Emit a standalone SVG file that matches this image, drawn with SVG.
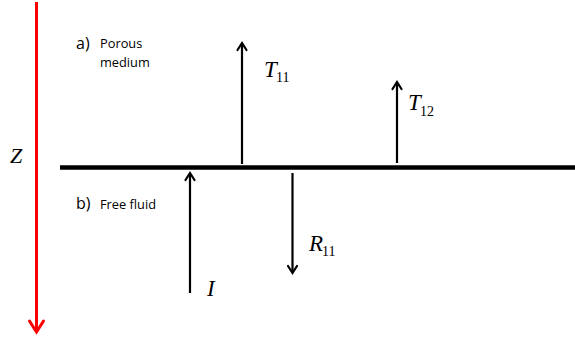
<svg xmlns="http://www.w3.org/2000/svg" width="575" height="341" viewBox="0 0 575 341">
<style>
.arr{stroke:#000;stroke-width:2.2;fill:none}
.head{stroke:#000;stroke-width:2.2;fill:none;stroke-linecap:round;stroke-linejoin:miter}
.lbl{font-family:"Open Sans","DejaVu Sans",sans-serif;fill:#000}
.m{font-family:"Liberation Serif","Times New Roman",serif;font-style:italic;fill:#000}
.sub{font-family:"Liberation Serif","Times New Roman",serif;fill:#000}
</style>
<rect width="575" height="341" fill="#fff"/>
<g id="z-axis">
<line x1="36.5" y1="2" x2="36.5" y2="332" stroke="#ff0000" stroke-width="3"/>
<polyline points="29.5,321 36.5,332 43.5,321" fill="none" stroke="#ff0000" stroke-width="3" stroke-linecap="round"/>
<text class="m" x="10" y="163" font-size="22">Z</text>
</g>
<g id="interface">
<line x1="60" y1="167.5" x2="575" y2="167.5" stroke="#000" stroke-width="4.5"/>
</g>
<g id="label-a">
<text class="lbl" x="76" y="49" font-size="16">a)</text>
<text class="lbl" x="100" y="48" font-size="12.8">Porous</text>
<text class="lbl" x="100" y="67" font-size="12.8">medium</text>
</g>
<g id="label-b">
<text class="lbl" x="76" y="209" font-size="16">b)</text>
<text class="lbl" x="100" y="209" font-size="12.8">Free fluid</text>
</g>
<g id="connectors">
<g id="T11-arrow">
<line class="arr" x1="242" y1="164" x2="242" y2="44"/>
<polyline class="head" points="237.5,50 242,43 246.5,50"/>
</g>
<g id="T12-arrow">
<line class="arr" x1="397" y1="163" x2="397" y2="83"/>
<polyline class="head" points="392.5,89 397,82 401.5,89"/>
</g>
<g id="I-arrow">
<line class="arr" x1="190" y1="293" x2="190" y2="174"/>
<polyline class="head" points="185.5,180 190,173 194.5,180"/>
</g>
<g id="R11-arrow">
<line class="arr" x1="292.5" y1="173" x2="292.5" y2="272"/>
<polyline class="head" points="288,266 292.5,273 297,266"/>
</g>
</g>
<g id="T11">
<text class="m" x="264" y="77" font-size="23">T</text>
<text class="sub" x="276" y="82" font-size="14">11</text>
</g>
<g id="T12">
<text class="m" x="408" y="110" font-size="23">T</text>
<text class="sub" x="420" y="116" font-size="14">12</text>
</g>
<g id="R11">
<text class="m" x="309" y="251" font-size="23">R</text>
<text class="sub" x="322" y="256" font-size="14">11</text>
</g>
<g id="I">
<text class="m" x="207" y="296" font-size="23">I</text>
</g>
</svg>
